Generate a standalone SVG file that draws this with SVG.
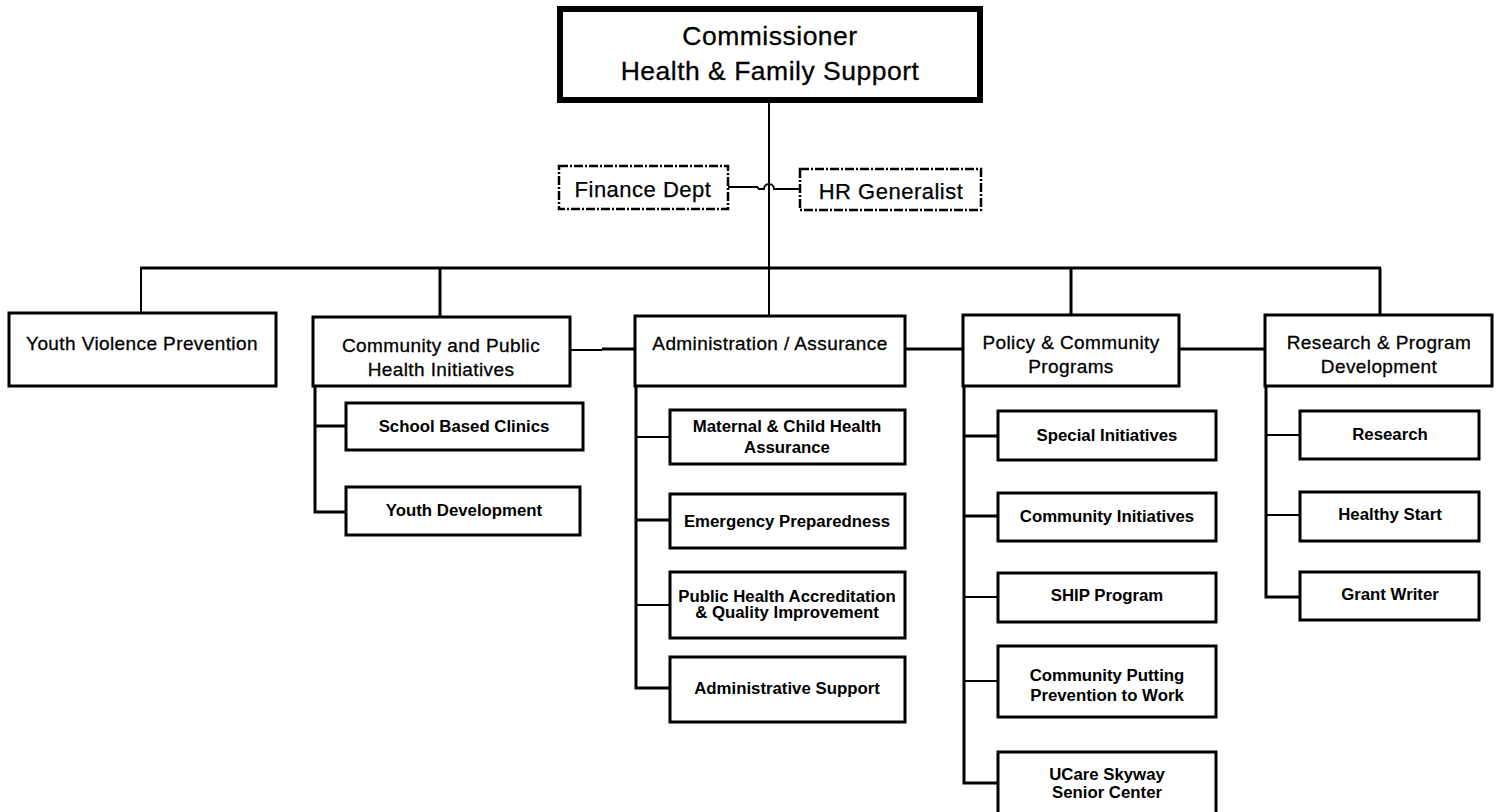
<svg xmlns="http://www.w3.org/2000/svg" width="1502" height="812" viewBox="0 0 1502 812">
  <style>
    .box { fill: #fff; stroke: #000; stroke-width: 3; }
    .top { fill: #fff; stroke: #000; stroke-width: 6; }
    .staff { fill: #fff; stroke: #000; stroke-width: 2.5; stroke-dasharray: 9 2 2 2; }
    .ln { fill: none; stroke: #000; stroke-width: 2; }
    .lnb { fill: none; stroke: #000; stroke-width: 3; }
    text { font-family: "Liberation Sans", Arial, sans-serif; fill: #000; text-anchor: middle; }
    .t1 { font-size: 26.5px; letter-spacing: 0.5px; stroke: #000; stroke-width: 0.3px; }
    .t2 { font-size: 22px; letter-spacing: 0.5px; stroke: #000; stroke-width: 0.25px; }
    .t3 { font-size: 19px; letter-spacing: 0.4px; stroke: #000; stroke-width: 0.3px; }
    .t4 { font-size: 16.8px; font-weight: bold; }
  </style>

  <!-- connectors -->
  <g id="connectors">
    <line class="ln" x1="769" y1="103" x2="769" y2="268"/>
    <path class="ln" d="M728,187 H757 L759,189 H764 A5,5 0 0 1 774,189 H800"/>
    <line class="lnb" x1="140" y1="268" x2="1381" y2="268"/>
    <line class="ln" x1="141" y1="268" x2="141" y2="313"/>
    <line class="lnb" x1="440" y1="268" x2="440" y2="317"/>
    <line class="ln" x1="769" y1="268" x2="769" y2="316"/>
    <line class="lnb" x1="1071" y1="268" x2="1071" y2="315"/>
    <line class="lnb" x1="1380" y1="268" x2="1380" y2="315"/>
    <!-- links between division heads -->
    <line class="ln" x1="570" y1="350" x2="602" y2="350"/>
    <line class="lnb" x1="602" y1="349" x2="635" y2="349"/>
    <line class="lnb" x1="905" y1="349" x2="963" y2="349"/>
    <line class="lnb" x1="1179" y1="349" x2="1265" y2="349"/>
    <!-- community and public health spine -->
    <polyline class="lnb" points="315,386 315,512 346,512"/>
    <line class="lnb" x1="315" y1="426" x2="346" y2="426"/>
    <!-- administration spine -->
    <polyline class="lnb" points="636,386 636,688 670,688"/>
    <line class="ln" x1="636" y1="437" x2="670" y2="437"/>
    <line class="lnb" x1="636" y1="520" x2="670" y2="520"/>
    <line class="ln" x1="636" y1="605" x2="670" y2="605"/>
    <!-- policy spine -->
    <polyline class="lnb" points="964,386 964,783 998,783"/>
    <line class="lnb" x1="964" y1="436" x2="998" y2="436"/>
    <line class="lnb" x1="964" y1="516" x2="998" y2="516"/>
    <line class="ln" x1="964" y1="597" x2="998" y2="597"/>
    <line class="ln" x1="964" y1="681" x2="998" y2="681"/>
    <!-- research spine -->
    <polyline class="lnb" points="1266,386 1266,597 1300,597"/>
    <line class="ln" x1="1266" y1="435" x2="1300" y2="435"/>
    <line class="ln" x1="1266" y1="515" x2="1300" y2="515"/>
  </g>

  <g id="commissioner">
    <rect class="top" x="560" y="9" width="420" height="91"/>
    <text class="t1" x="770" y="45">Commissioner</text>
    <text class="t1" x="770" y="80">Health &amp; Family Support</text>
  </g>

  <g id="finance">
    <rect class="staff" x="559" y="166" width="169" height="43"/>
    <text class="t2" x="643" y="197">Finance Dept</text>
  </g>
  <g id="hr">
    <rect class="staff" x="800" y="169" width="181" height="41"/>
    <text class="t2" x="891" y="199">HR Generalist</text>
  </g>

  <g id="youth-violence">
    <rect class="box" x="9" y="313" width="267" height="73"/>
    <text class="t3" x="142" y="350">Youth Violence Prevention</text>
  </g>

  <g id="cphi">
    <rect class="box" x="313" y="317" width="257" height="69"/>
    <text class="t3" x="441" y="352">Community and Public</text>
    <text class="t3" x="441" y="376">Health Initiatives</text>
  </g>
  <g id="school-clinics">
    <rect class="box" x="346" y="403" width="237" height="47"/>
    <text class="t4" x="464" y="432">School Based Clinics</text>
  </g>
  <g id="youth-dev">
    <rect class="box" x="346" y="487" width="234" height="48"/>
    <text class="t4" x="464" y="516">Youth Development</text>
  </g>

  <g id="admin">
    <rect class="box" x="635" y="316" width="270" height="70"/>
    <text class="t3" x="770" y="350">Administration / Assurance</text>
  </g>
  <g id="mch">
    <rect class="box" x="670" y="410" width="235" height="54"/>
    <text class="t4" x="787" y="432">Maternal &amp; Child Health</text>
    <text class="t4" x="787" y="453">Assurance</text>
  </g>
  <g id="emergency">
    <rect class="box" x="670" y="494" width="235" height="54"/>
    <text class="t4" x="787" y="527">Emergency Preparedness</text>
  </g>
  <g id="accreditation">
    <rect class="box" x="670" y="572" width="235" height="66"/>
    <text class="t4" x="787" y="602">Public Health Accreditation</text>
    <text class="t4" x="787" y="618">&amp; Quality Improvement</text>
  </g>
  <g id="admin-support">
    <rect class="box" x="670" y="657" width="235" height="65"/>
    <text class="t4" x="787" y="694">Administrative Support</text>
  </g>

  <g id="policy">
    <rect class="box" x="963" y="315" width="216" height="71"/>
    <text class="t3" x="1071" y="349">Policy &amp; Community</text>
    <text class="t3" x="1071" y="373">Programs</text>
  </g>
  <g id="special">
    <rect class="box" x="998" y="411" width="218" height="49"/>
    <text class="t4" x="1107" y="441">Special Initiatives</text>
  </g>
  <g id="community-init">
    <rect class="box" x="998" y="493" width="218" height="48"/>
    <text class="t4" x="1107" y="522">Community Initiatives</text>
  </g>
  <g id="ship">
    <rect class="box" x="998" y="573" width="218" height="49"/>
    <text class="t4" x="1107" y="601">SHIP Program</text>
  </g>
  <g id="cppw">
    <rect class="box" x="998" y="646" width="218" height="71"/>
    <text class="t4" x="1107" y="681">Community Putting</text>
    <text class="t4" x="1107" y="701">Prevention to Work</text>
  </g>
  <g id="ucare">
    <rect class="box" x="998" y="752" width="218" height="64"/>
    <text class="t4" x="1107" y="780">UCare Skyway</text>
    <text class="t4" x="1107" y="798">Senior Center</text>
  </g>

  <g id="research-dev">
    <rect class="box" x="1265" y="315" width="227" height="71"/>
    <text class="t3" x="1379" y="349">Research &amp; Program</text>
    <text class="t3" x="1379" y="373">Development</text>
  </g>
  <g id="research">
    <rect class="box" x="1300" y="411" width="179" height="48"/>
    <text class="t4" x="1390" y="440">Research</text>
  </g>
  <g id="healthy-start">
    <rect class="box" x="1300" y="492" width="179" height="49"/>
    <text class="t4" x="1390" y="520">Healthy Start</text>
  </g>
  <g id="grant-writer">
    <rect class="box" x="1300" y="572" width="179" height="48"/>
    <text class="t4" x="1390" y="600">Grant Writer</text>
  </g>
</svg>
